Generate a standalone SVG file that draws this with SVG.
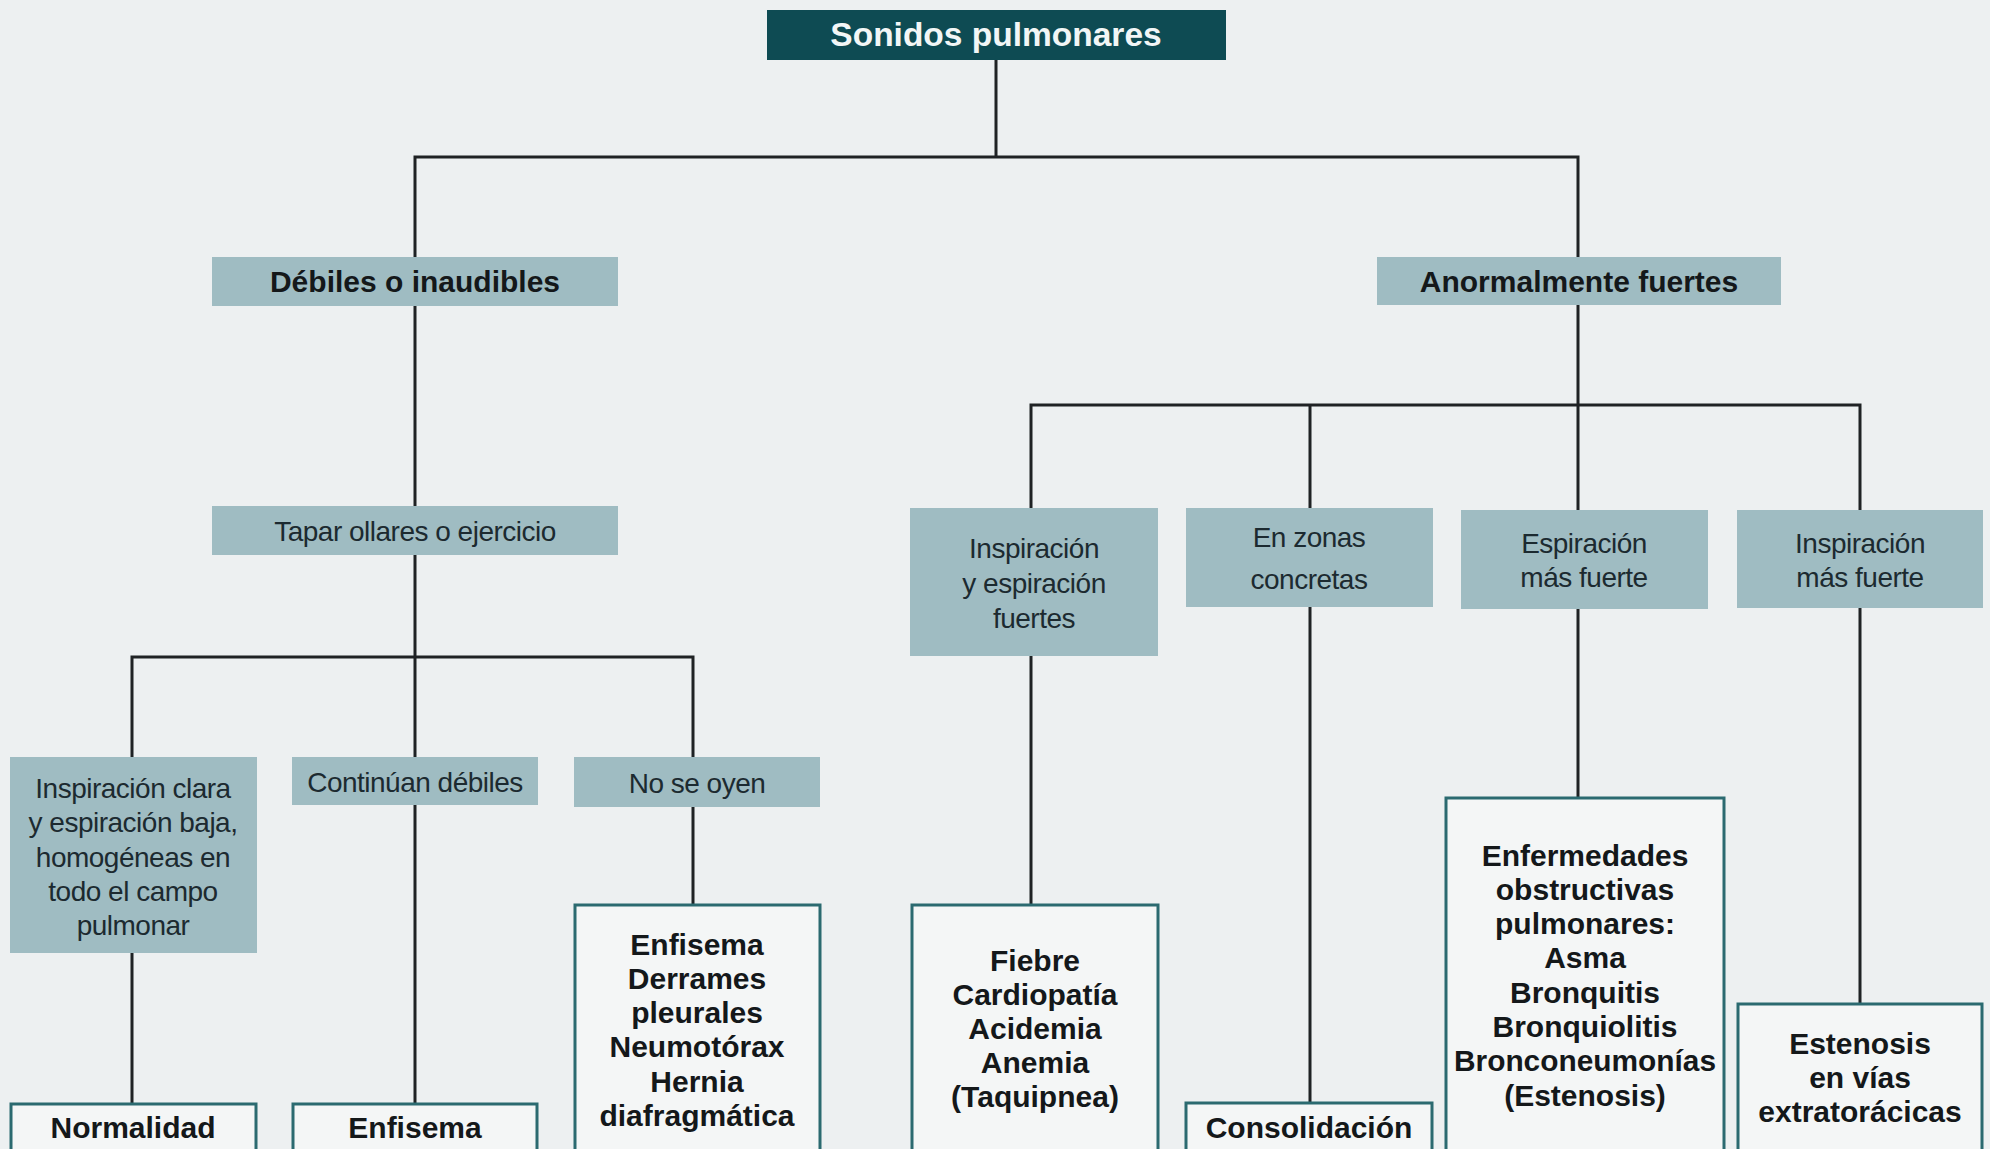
<svg xmlns="http://www.w3.org/2000/svg" width="1990" height="1149" viewBox="0 0 1990 1149">
<style>
.bg{fill:#edf0f1}
.title{fill:#0e4b53}
.cat{fill:#9fbcc2}
.res{fill:#f4f6f6;stroke:#2b6a70;stroke-width:3}
.ln{stroke:#1f2224;stroke-width:3;fill:none;stroke-linecap:square}
text{font-family:"Liberation Sans",Arial,sans-serif;text-anchor:middle}
.tt{font-size:33.5px;font-weight:bold;fill:#f2f6f6}
.b{font-size:30px;font-weight:bold;fill:#14181a}
.r{font-size:28px;fill:#1c2a30;letter-spacing:-0.5px}
</style>
<rect class="bg" x="0" y="0" width="1990" height="1149"/>
<g id="connectors">
<path class="ln" d="M996 60V157M415 157H1578M415 157V257M1578 157V257M415 306V506M415 555V657M132 657H693M132 657V757M415 657V757M693 657V757M132 953V1104M415 805V1104M693 807V905"/>
<path class="ln" d="M1578 305V510M1031 405H1860M1031 405V508M1310 405V508M1860 405V510M1031 656V905M1310 607V1103M1578 609V798M1860 608V1004"/>
</g>
<g id="n-sonidos"><rect class="title" x="767" y="10" width="459" height="50"/><text class="tt" x="996" y="46">Sonidos pulmonares</text></g>
<g id="n-debiles"><rect class="cat" x="212" y="257" width="406" height="49"/><text class="b" x="415" y="292">Débiles o inaudibles</text></g>
<g id="n-anormal"><rect class="cat" x="1377" y="257" width="404" height="48"/><text class="b" x="1579" y="292">Anormalmente fuertes</text></g>
<g id="n-tapar"><rect class="cat" x="212" y="506" width="406" height="49"/><text class="r" x="415" y="541">Tapar ollares o ejercicio</text></g>
<g id="n-clara"><rect class="cat" x="10" y="757" width="247" height="196"/>
<text class="r" x="133" y="798">Inspiración clara</text><text class="r" x="133" y="832">y espiración baja,</text><text class="r" x="133" y="867">homogéneas en</text><text class="r" x="133" y="901">todo el campo</text><text class="r" x="133" y="935">pulmonar</text></g>
<g id="n-continuan"><rect class="cat" x="292" y="757" width="246" height="48"/><text class="r" x="415" y="792">Continúan débiles</text></g>
<g id="n-nooyen"><rect class="cat" x="574" y="757" width="246" height="50"/><text class="r" x="697" y="793">No se oyen</text></g>
<g id="n-normalidad"><rect class="res" x="11" y="1104" width="245" height="60"/><text class="b" x="133" y="1138">Normalidad</text></g>
<g id="n-enfisema"><rect class="res" x="293" y="1104" width="244" height="60"/><text class="b" x="415" y="1138">Enfisema</text></g>
<g id="n-enf-list"><rect class="res" x="575" y="905" width="245" height="260"/>
<text class="b" x="697" y="955">Enfisema</text><text class="b" x="697" y="989">Derrames</text><text class="b" x="697" y="1023">pleurales</text><text class="b" x="697" y="1057">Neumotórax</text><text class="b" x="697" y="1092">Hernia</text><text class="b" x="697" y="1126">diafragmática</text></g>
<g id="n-insp-esp"><rect class="cat" x="910" y="508" width="248" height="148"/>
<text class="r" x="1034" y="558">Inspiración</text><text class="r" x="1034" y="593">y espiración</text><text class="r" x="1034" y="628">fuertes</text></g>
<g id="n-zonas"><rect class="cat" x="1186" y="508" width="247" height="99"/>
<text class="r" x="1309" y="547">En zonas</text><text class="r" x="1309" y="589">concretas</text></g>
<g id="n-espiracion"><rect class="cat" x="1461" y="510" width="247" height="99"/>
<text class="r" x="1584" y="553">Espiración</text><text class="r" x="1584" y="587">más fuerte</text></g>
<g id="n-inspiracion"><rect class="cat" x="1737" y="510" width="246" height="98"/>
<text class="r" x="1860" y="553">Inspiración</text><text class="r" x="1860" y="587">más fuerte</text></g>
<g id="n-fiebre"><rect class="res" x="912" y="905" width="246" height="260"/>
<text class="b" x="1035" y="971">Fiebre</text><text class="b" x="1035" y="1005">Cardiopatía</text><text class="b" x="1035" y="1039">Acidemia</text><text class="b" x="1035" y="1073">Anemia</text><text class="b" x="1035" y="1107">(Taquipnea)</text></g>
<g id="n-consolidacion"><rect class="res" x="1186" y="1103" width="246" height="60"/><text class="b" x="1309" y="1138">Consolidación</text></g>
<g id="n-obstructivas"><rect class="res" x="1446" y="798" width="278" height="370"/>
<text class="b" x="1585" y="866">Enfermedades</text><text class="b" x="1585" y="900">obstructivas</text><text class="b" x="1585" y="934">pulmonares:</text><text class="b" x="1585" y="968">Asma</text><text class="b" x="1585" y="1003">Bronquitis</text><text class="b" x="1585" y="1037">Bronquiolitis</text><text class="b" x="1585" y="1071" textLength="262" lengthAdjust="spacingAndGlyphs">Bronconeumonías</text><text class="b" x="1585" y="1106">(Estenosis)</text></g>
<g id="n-estenosis"><rect class="res" x="1738" y="1004" width="244" height="160"/>
<text class="b" x="1860" y="1054">Estenosis</text><text class="b" x="1860" y="1088">en vías</text><text class="b" x="1860" y="1122">extratorácicas</text></g>
</svg>
